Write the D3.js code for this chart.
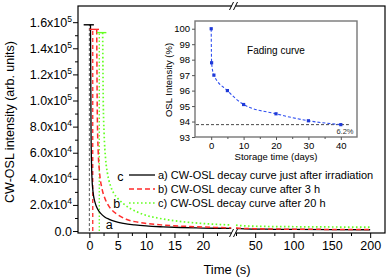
<!DOCTYPE html>
<html><head><meta charset="utf-8">
<script src="https://cdn.jsdelivr.net/npm/d3@7/dist/d3.min.js"></script>
<style>body{margin:0;background:#fff}svg{display:block;font-family:"Liberation Sans",Arial,sans-serif}</style>
</head><body><svg id="c" width="392" height="278"></svg>
<script>
// ---------- data ----------
const timeA = [0.2, 0.3, 0.45, 0.65, 1.0, 1.5, 2, 2.7, 3.5, 4.5, 6, 8, 10, 13, 16, 20, 25, 30, 50, 75, 100, 150, 200];
const valueA = [158000, 75000, 42000, 30000, 22000, 16500, 13500, 10800, 9000, 7400, 5900, 4700, 3900, 3200, 2700, 2300, 2000, 1800, 1500, 1350, 1250, 1100, 1000];
const timeB = [1.3, 1.4, 1.55, 1.8, 2.2, 2.7, 3.3, 4, 5, 6.5, 8, 10, 13, 16, 20, 25, 30, 50, 75, 100, 150, 200];
const valueB = [154500, 90000, 62000, 45000, 33000, 25500, 20000, 16000, 12500, 9000, 7200, 5800, 4600, 3800, 3100, 2400, 2200, 1800, 1550, 1400, 1250, 1150];
const timeC = [2.35, 2.45, 2.6, 2.85, 3.2, 3.7, 4.3, 5, 6, 7, 8.5, 10, 12, 14, 17, 20, 25, 30, 50, 75, 100, 150, 200];
const valueC = [152000, 100000, 75000, 56000, 44000, 35000, 29000, 25000, 21000, 17800, 14500, 12000, 10000, 8500, 6900, 5800, 4600, 4200, 3700, 3400, 3300, 3100, 3000];
const peakValues = [158000, 154500, 152000];
const capStart = [-1.0, 0.0, 1.3];
const capEnd = [0.8, 1.7, 3.0];
const refTimes = [0, 0.6, 1.75];
const seriesNames = ["a) CW-OSL decay curve just after irradiation", "b) CW-OSL decay curve after 3 h", "c) CW-OSL decay curve after 20 h"];
const curveLetters = ["a", "b", "c"];
const letterPos = [[2.9, 1800], [4.2, 18000], [4.9, 38500]];
const yTickValues = [0, 20000, 40000, 60000, 80000, 100000, 120000, 140000, 160000];
const yTickMant = ["0.0", "2.0", "4.0", "6.0", "8.0", "1.0", "1.2", "1.4", "1.6"];
const yTickExp = ["", "4", "4", "4", "4", "5", "5", "5", "5"];
const yMinorTicks = [10000, 30000, 50000, 70000, 90000, 110000, 130000, 150000];
const xMajor1 = [0, 5, 10, 15, 20];
const xMinor1 = [2.5, 7.5, 12.5, 17.5, 22.5];
const xMajor2 = [50, 100, 150, 200];
const xMinor2 = [25, 75, 125, 175];
// inset
const storageDays = [0, 0.125, 0.83, 5, 10, 20, 30, 40];
const oslPercent = [100, 97.8, 97.0, 96.0, 95.1, 94.5, 94.05, 93.8];
const fadingLevel = 93.8;
const insetYTicks = [93, 94, 95, 96, 97, 98, 99, 100];
const insetXTicks = [0, 10, 20, 30, 40];
const insetXMinor = [5, 15, 25, 35];

// ---------- layout ----------
const svg = d3.select("#c");
const L = 78, R = 385, T = 6, B = 233;
const x1 = d3.scaleLinear().domain([-2, 25]).range([78, 231.2]);
const x2 = d3.scaleLinear().domain([25, 220]).range([236, 385.5]);
const y = d3.scaleLinear().domain([-1500, 172400]).range([B, T]);
const colors = ["#000000", "#ff2b2b", "#66ff22"];
const dashes = [null, "5,3", "1.6,2.4"];
const widths = [1.3, 1.5, 1.7];
const FONT = "Liberation Sans, Arial, sans-serif";

const series = [[timeA, valueA], [timeB, valueB], [timeC, valueC]].map(([t, v]) => t.map((d, i) => ({t: d, v: v[i]})));

// reference verticals
refTimes.forEach((t, i) => {
  svg.append("line").attr("x1", x1(t)).attr("x2", x1(t)).attr("y1", y(0)).attr("y2", y(peakValues[i]))
    .attr("stroke", i === 0 ? "#444" : colors[i]).attr("stroke-width", i === 0 ? 0.9 : 1.3)
    .attr("stroke-dasharray", i === 0 ? "3,2" : (i === 1 ? "4,3" : "1.5,2"));
});

// curves
series.forEach((s, i) => {
  const seg1 = s.filter(d => d.t <= 25), seg2 = s.filter(d => d.t >= 25);
  const l1 = d3.line().x(d => x1(d.t)).y(d => y(d.v)).curve(d3.curveMonotoneX);
  const l2 = d3.line().x(d => x2(d.t)).y(d => y(d.v)).curve(d3.curveMonotoneX);
  [[seg1, l1], [seg2, l2]].forEach(([seg, l]) => {
    svg.append("path").attr("d", l(seg)).attr("fill", "none").attr("stroke", colors[i])
      .attr("stroke-width", widths[i]).attr("stroke-dasharray", dashes[i]);
  });
  svg.append("line").attr("x1", x1(capStart[i])).attr("x2", x1(capEnd[i]))
    .attr("y1", y(peakValues[i])).attr("y2", y(peakValues[i]))
    .attr("stroke", colors[i]).attr("stroke-width", 1.4);
  svg.append("text").attr("x", x1(letterPos[i][0])).attr("y", y(letterPos[i][1]))
    .attr("font-size", 12.5).text(curveLetters[i]);
});

// frame
svg.append("rect").attr("x", L).attr("y", T).attr("width", R - L).attr("height", B - T)
  .attr("fill", "none").attr("stroke", "#000").attr("stroke-width", 1.2);

// y axis
const gy = svg.append("g").attr("transform", `translate(${L},0)`);
gy.call(d3.axisLeft(y).tickValues(yTickValues).tickSize(5).tickSizeOuter(0).tickFormat(""));
const gyMinor = svg.append("g").attr("transform", `translate(${L},0)`);
gyMinor.call(d3.axisLeft(y).tickValues(yMinorTicks).tickSize(3).tickSizeOuter(0).tickFormat(""));
[gy, gyMinor].forEach(g => { g.selectAll(".domain").remove(); g.selectAll("line").attr("stroke-width", 1); });
yTickValues.forEach((v, i) => {
  const t = gy.append("text").attr("x", -6).attr("y", y(v) + 4.5).attr("text-anchor", "end")
    .attr("font-size", 12.5).attr("fill", "#000").attr("font-family", FONT);
  if (yTickExp[i]) {
    t.append("tspan").text(yTickMant[i] + "x10");
    t.append("tspan").attr("font-size", 8.5).attr("dy", -5).text(yTickExp[i]);
  } else t.text(yTickMant[i]);
});

// x axes
function xAxis(scale, major, minor) {
  const g = svg.append("g").attr("transform", `translate(0,${B})`);
  g.call(d3.axisBottom(scale).tickValues(major).tickSize(5).tickSizeOuter(0).tickPadding(3).tickFormat(d3.format("d")));
  const gm = svg.append("g").attr("transform", `translate(0,${B})`);
  gm.call(d3.axisBottom(scale).tickValues(minor).tickSize(3).tickSizeOuter(0).tickFormat(""));
  [g, gm].forEach(gg => gg.selectAll(".domain").remove());
  g.selectAll("text").attr("font-size", 12.5).attr("fill", "#000").attr("font-family", FONT);
}
xAxis(x1, xMajor1, xMinor1);
xAxis(x2, xMajor2, xMinor2);

// axis breaks
[B, T].forEach(yy => {
  svg.append("rect").attr("x", 231.6).attr("y", yy - 2).attr("width", 4).attr("height", 4).attr("fill", "#fff");
  [229.5, 233.5].forEach(xx => {
    svg.append("line").attr("x1", xx).attr("y1", yy + 4).attr("x2", xx + 4).attr("y2", yy - 4)
      .attr("stroke", "#000").attr("stroke-width", 1);
  });
});

// titles
svg.append("text").attr("x", 227).attr("y", 274).attr("text-anchor", "middle").attr("font-size", 13).text("Time (s)");
svg.append("text").attr("transform", "translate(14,122) rotate(-90)").attr("text-anchor", "middle")
  .attr("font-size", 12.5).text("CW-OSL intensity (arb. units)");

// legend
seriesNames.forEach((n, i) => {
  const yy = 175 + i * 14;
  svg.append("line").attr("x1", 129).attr("x2", 155).attr("y1", yy).attr("y2", yy)
    .attr("stroke", colors[i]).attr("stroke-width", widths[i]).attr("stroke-dasharray", dashes[i]);
  svg.append("text").attr("x", 158).attr("y", yy + 4).attr("font-size", 11).text(n);
});

// ---------- inset ----------
const ix = d3.scaleLinear().domain([-5, 45]).range([195, 357]);
const iy = d3.scaleLinear().domain([93, 100.5]).range([137, 21]);
svg.append("rect").attr("x", 195).attr("y", 21).attr("width", 162).attr("height", 116)
  .attr("fill", "#fff").attr("stroke", "#777").attr("stroke-width", 1.4);
const giy = svg.append("g").attr("transform", "translate(195,0)");
giy.call(d3.axisLeft(iy).tickValues(insetYTicks).tickSize(3).tickSizeOuter(0).tickPadding(2).tickFormat(d3.format("d")));
const gix = svg.append("g").attr("transform", "translate(0,137)");
gix.call(d3.axisBottom(ix).tickValues(insetXTicks).tickSize(3).tickSizeOuter(0).tickPadding(2).tickFormat(d3.format("d")));
const gixm = svg.append("g").attr("transform", "translate(0,137)");
gixm.call(d3.axisBottom(ix).tickValues(insetXMinor).tickSize(2).tickSizeOuter(0).tickFormat(""));
[giy, gix, gixm].forEach(g => {
  g.selectAll(".domain").remove();
  g.selectAll("line").attr("stroke", "#555");
  g.selectAll("text").attr("font-size", 9.5).attr("fill", "#000").attr("font-family", FONT);
});
svg.append("line").attr("x1", 196).attr("x2", ix(42.5)).attr("y1", iy(fadingLevel)).attr("y2", iy(fadingLevel))
  .attr("stroke", "#333").attr("stroke-width", 0.9).attr("stroke-dasharray", "3,2");
const pts = storageDays.map((d, i) => ({d, p: oslPercent[i]}));
svg.append("path").attr("d", d3.line().x(d => ix(d.d)).y(d => iy(d.p)).curve(d3.curveMonotoneX)(pts))
  .attr("fill", "none").attr("stroke", "#3050f0").attr("stroke-width", 1.1).attr("stroke-dasharray", "3,2");
svg.selectAll(".ipt").data(pts).enter().append("rect").attr("class", "ipt")
  .attr("x", d => ix(d.d) - 1.6).attr("y", d => iy(d.p) - 1.6).attr("width", 3.2).attr("height", 3.2).attr("fill", "#1f3ad8");
svg.append("text").attr("x", 276).attr("y", 54).attr("text-anchor", "middle").attr("font-size", 10).text("Fading curve");
svg.append("text").attr("x", 345).attr("y", 133.5).attr("text-anchor", "middle").attr("font-size", 7.5).attr("fill", "#333").text("6.2%");
svg.append("text").attr("x", 276).attr("y", 160).attr("text-anchor", "middle").attr("font-size", 9.5).text("Storage time (days)");
svg.append("text").attr("transform", "translate(172,80) rotate(-90)").attr("text-anchor", "middle")
  .attr("font-size", 9.5).text("OSL Intensity (%)");
</script></body></html>
